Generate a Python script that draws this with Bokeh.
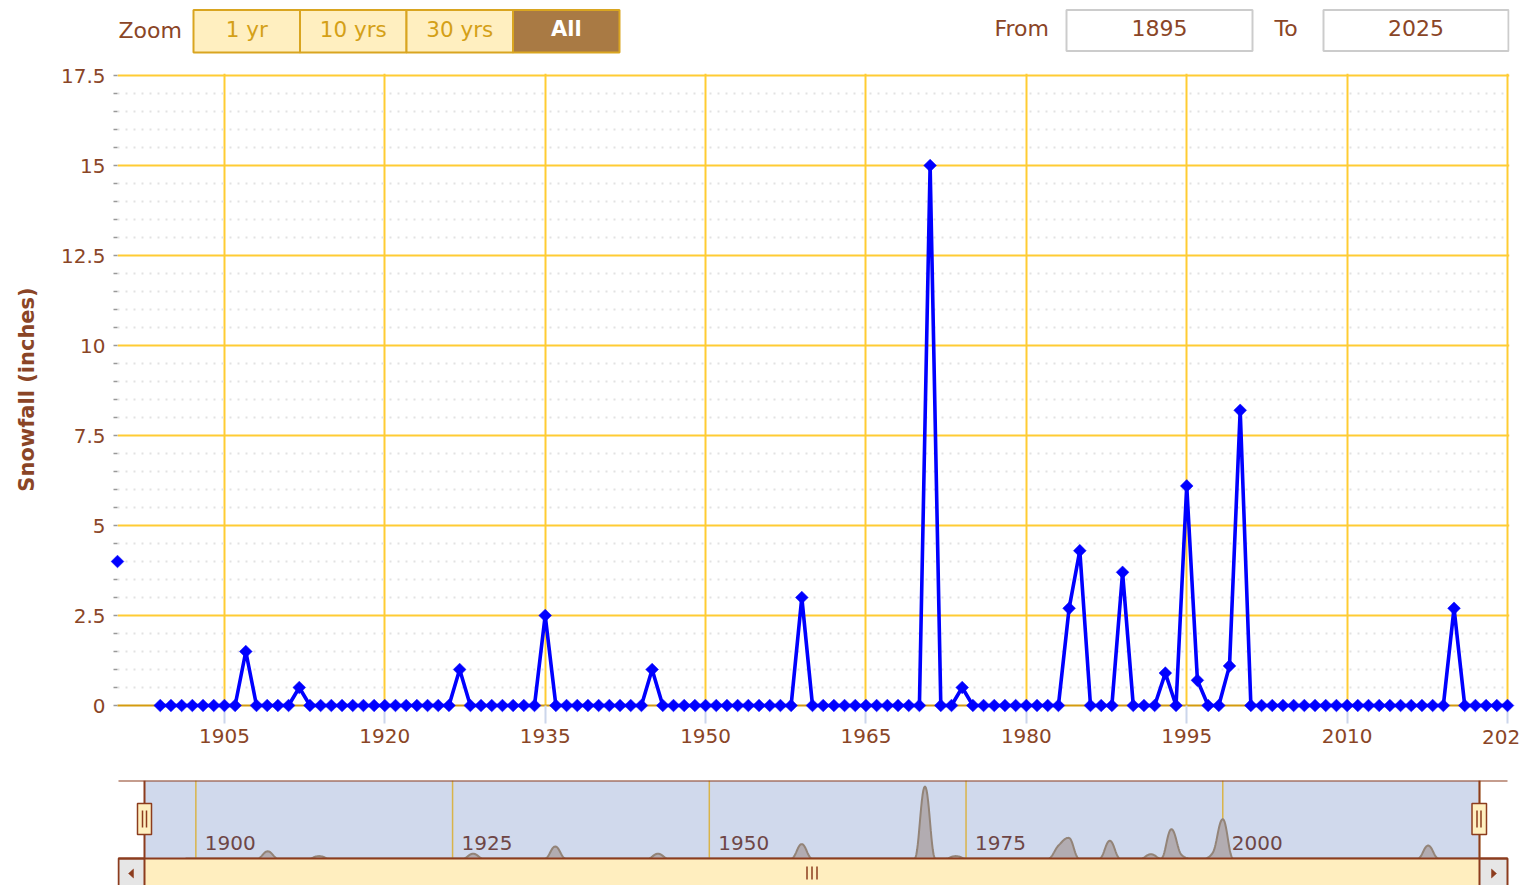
import math
from bokeh.plotting import figure
from bokeh.models import Range1d, FixedTicker, NumeralTickFormatter, ColumnDataSource
from bokeh.layouts import column
from bokeh.embed import file_html
from bokeh.resources import INLINE
from bokeh.core.properties import value

# ---------------- data ----------------
years = list(range(1895, 2026))
snowfall = [
    4.0, None, None, None, 0.0,                 # 1895-1899
    0, 0, 0, 0, 0, 0, 0, 1.5, 0, 0,             # 1900s
    0, 0, 0.5, 0, 0, 0, 0, 0, 0, 0,             # 1910s
    0, 0, 0, 0, 0, 0, 0, 1.0, 0, 0,             # 1920s
    0, 0, 0, 0, 0, 2.5, 0, 0, 0, 0,             # 1930s
    0, 0, 0, 0, 0, 1.0, 0, 0, 0, 0,             # 1940s
    0, 0, 0, 0, 0, 0, 0, 0, 0, 3.0,             # 1950s
    0, 0, 0, 0, 0, 0, 0, 0, 0, 0,               # 1960s
    0, 15.0, 0, 0, 0.5, 0, 0, 0, 0, 0,          # 1970s
    0, 0, 0, 0, 2.7, 4.3, 0, 0, 0, 3.7,         # 1980s
    0, 0, 0, 0.9, 0, 6.1, 0.7, 0, 0, 1.1,       # 1990s
    8.2, 0, 0, 0, 0, 0, 0, 0, 0, 0,             # 2000s
    0, 0, 0, 0, 0, 0, 0, 0, 0, 0,               # 2010s
    2.7, 0, 0, 0, 0, 0,                         # 2020-2025
]
y_ticks = [0, 2.5, 5, 7.5, 10, 12.5, 15, 17.5]
x_ticks = [1905, 1920, 1935, 1950, 1965, 1980, 1995, 2010, 2025]
nav_ticks = [1900, 1925, 1950, 1975, 2000, 2025]
nav_labels = ["1900", "1925", "1950", "1975", "2000"]
zoom_buttons = ["1 yr", "10 yrs", "30 yrs", "All"]
from_year = "1895"
to_year = "2025"
y_title = "Snowfall (inches)"

# ---------------- style ----------------
FONT = "DejaVu Sans"
BROWN = "#8A4526"
DARK = "#8C3C1E"
GOLD = "#FFCC33"
BTN_TXT = "#D4A017"
W = 1519
FL, FR = 117, 1509          # frame left / right (page px), shared by all figures
BL, BR = FL, W - FR

snow_nan = [float("nan") if v is None else float(v) for v in snowfall]
src = ColumnDataSource(dict(year=years, snow=snow_nan))

# ---------------- header (range selector) ----------------
h = figure(width=W, height=62, x_range=Range1d(FL, FR), y_range=Range1d(62, 0),
           x_axis_location=None, y_axis_location=None, toolbar_location=None,
           output_backend="svg", min_border_left=BL, min_border_right=BR,
           min_border_top=0, min_border_bottom=0, outline_line_color=None)
h.grid.visible = False
b_left = [193, 299.5, 406, 512.5]
b_right = [299.5, 406, 512.5, 619]
h.quad(left=b_left[:3], right=b_right[:3], top=9.5, bottom=52,
       fill_color="#FFEFC0", line_color="#D9A520", line_width=2)
h.quad(left=b_left[3:], right=b_right[3:], top=9.5, bottom=52,
       fill_color="#A97A44", line_color="#D9A520", line_width=2)
bc = [(l + r) / 2 for l, r in zip(b_left, b_right)]
h.text(x=bc[:3], y=[29] * 3, text=zoom_buttons[:3], text_align="center",
       text_baseline="middle", text_font=value(FONT), text_font_size=value("21.5px"),
       text_color=BTN_TXT)
h.text(x=bc[3:], y=[28.5], text=zoom_buttons[3:], text_align="center",
       text_baseline="middle", text_font=value(FONT), text_font_size=value("21px"),
       text_font_style="bold", text_color="white")
h.text(x=[118, 994, 1274], y=[29.5, 27.5, 27.5], text=["Zoom", "From", "To"],
       text_align="left", text_baseline="middle", text_font=value(FONT),
       text_font_size=value("22px"), text_color=BROWN)
h.quad(left=[1066, 1323], right=[1252, 1508], top=9.5, bottom=50.5,
       fill_color="white", line_color="#CCCCCC", line_width=2)
h.text(x=[1159, 1415.5], y=[27.5, 27.5], text=[from_year, to_year], text_align="center",
       text_baseline="middle", text_font=value(FONT), text_font_size=value("22px"),
       text_color=BROWN)

# ---------------- main chart ----------------
PX_YR = (1507 - FL) / (years[-1] - years[0])
PX_IN = 36.0
p = figure(width=W, height=708,
           x_range=Range1d(years[0], years[-1] + (FR - 1507) / PX_YR),
           y_range=Range1d(0, 17.5 + 2 / PX_IN),
           toolbar_location=None, output_backend="svg",
           min_border_left=BL, min_border_right=BR, min_border_top=11, min_border_bottom=65,
           outline_line_color=None, background_fill_color="white", border_fill_color="white")

xt = FixedTicker(ticks=x_ticks)
yt = FixedTicker(ticks=y_ticks, minor_ticks=[i * 0.5 for i in range(36) if i % 5])
p.xaxis.ticker = xt
p.xgrid.ticker = xt
p.yaxis.ticker = yt
p.ygrid.ticker = yt

p.xgrid.grid_line_color = GOLD
p.xgrid.grid_line_width = 2
p.ygrid.grid_line_color = GOLD
p.ygrid.grid_line_width = 2
p.ygrid.minor_grid_line_color = "#E2E2E2"
p.ygrid.minor_grid_line_width = 2
p.ygrid.minor_grid_line_dash = "2 6"

p.yaxis.formatter = NumeralTickFormatter(format="0.[0]")
p.yaxis.axis_line_color = None
p.yaxis.major_tick_out = 4
p.yaxis.major_tick_in = 0
p.yaxis.minor_tick_out = 4
p.yaxis.minor_tick_in = 0
p.yaxis.major_tick_line_color = "#999999"
p.yaxis.minor_tick_line_color = "#999999"
p.yaxis.major_tick_line_width = 1.5
p.yaxis.minor_tick_line_width = 1.5
p.yaxis.major_label_standoff = 8
p.yaxis.axis_label = y_title
p.yaxis.axis_label_text_font = FONT
p.yaxis.axis_label_text_font_size = "21px"
p.yaxis.axis_label_text_font_style = "bold"
p.yaxis.axis_label_text_color = BROWN
p.yaxis.axis_label_standoff = 19

p.xaxis.axis_line_color = "#D49B0F"
p.xaxis.axis_line_width = 2
p.xaxis.major_tick_out = 18
p.xaxis.major_tick_in = 0
p.xaxis.major_tick_line_color = "#CCD6EB"
p.xaxis.major_tick_line_width = 2
p.xaxis.minor_tick_out = 0
p.xaxis.minor_tick_in = 0
p.xaxis.major_label_standoff = 5
# the last label runs off the page edge in the original; draw it as free text
p.xaxis.major_label_overrides = {x_ticks[-1]: ""}

for ax in (p.xaxis, p.yaxis):
    ax.major_label_text_font = FONT
    ax.major_label_text_font_size = "20px"
    ax.major_label_text_color = BROWN

p.text(x=[x_ticks[-1]], y=[0], text=[str(x_ticks[-1])], y_offset=31, level="annotation",
       text_align="center", text_baseline="middle", text_font=value(FONT),
       text_font_size=value("20px"), text_color=BROWN)

p.line("year", "snow", source=src, line_color="#0000FF", line_width=3.6, level="overlay")
p.scatter("year", "snow", source=src, marker="square", angle=math.pi / 4, size=9,
          fill_color="#0000FF", line_color="#0000FF", line_width=0.5, level="overlay")

# ---------------- navigator ----------------
NAV_L, NAV_R = 144.0, 1479.0          # page x of first / last year
ppy = (NAV_R - NAV_L) / (years[-1] - years[0])
nx0 = years[0] - (NAV_L - FL) / ppy
nx1 = years[-1] + (FR - NAV_R) / ppy
ppu = 4.8                              # px per inch in navigator
ny0 = -(885 - 858) / ppu
ny1 = (858 - 780) / ppu

n = figure(width=W, height=115, x_range=Range1d(nx0, nx1), y_range=Range1d(ny0, ny1),
           x_axis_location=None, y_axis_location=None, toolbar_location=None,
           output_backend="svg", min_border_left=BL, min_border_right=BR,
           min_border_top=10, min_border_bottom=0, outline_line_color=None,
           background_fill_color="white", border_fill_color="white")
n.grid.visible = False
n.extra_x_ranges = {"px": Range1d(FL, FR)}
n.extra_y_ranges = {"px": Range1d(885, 780)}

# mask over selected range
n.quad(left=[years[0]], right=[years[-1]], top=[ny1], bottom=[0],
       fill_color="#D0D9EC", line_color=None)
# navigator grid lines
n.segment(x0=nav_ticks, x1=nav_ticks, y0=[0] * len(nav_ticks), y1=[ny1] * len(nav_ticks),
          line_color="#D9B44A", line_width=1.5)


def spline_curve(xv, yv, smoothing=1.5, steps=14):
    """Highcharts-style areaspline rendering of the given points."""
    m = len(xv)
    lc, rc = [], []
    for i in range(m):
        px, py = xv[i], yv[i]
        if 0 < i < m - 1:
            lx, ly, qx, qy = xv[i - 1], yv[i - 1], xv[i + 1], yv[i + 1]
            d = smoothing + 1
            lcx, lcy = (smoothing * px + lx) / d, (smoothing * py + ly) / d
            rcx, rcy = (smoothing * px + qx) / d, (smoothing * py + qy) / d
            corr = 0.0
            if rcx != lcx:
                corr = (rcy - lcy) * (rcx - px) / (rcx - lcx) + py - rcy
            lcy += corr
            rcy += corr
            if lcy > ly and lcy > py:
                lcy = max(ly, py); rcy = 2 * py - lcy
            elif lcy < ly and lcy < py:
                lcy = min(ly, py); rcy = 2 * py - lcy
            if rcy > qy and rcy > py:
                rcy = max(qy, py); lcy = 2 * py - rcy
            elif rcy < qy and rcy < py:
                rcy = min(qy, py); lcy = 2 * py - rcy
        else:
            lcx, lcy, rcx, rcy = px, py, px, py
        lc.append((lcx, lcy))
        rc.append((rcx, rcy))
    ox, oy = [xv[0]], [yv[0]]
    for i in range(1, m):
        p0 = (xv[i - 1], yv[i - 1]); c1 = rc[i - 1]; c2 = lc[i]; p3 = (xv[i], yv[i])
        for k in range(1, steps + 1):
            t = k / steps
            a, b, c, e = (1 - t) ** 3, 3 * (1 - t) ** 2 * t, 3 * (1 - t) * t ** 2, t ** 3
            ox.append(a * p0[0] + b * c1[0] + c * c2[0] + e * p3[0])
            oy.append(a * p0[1] + b * c1[1] + c * c2[1] + e * p3[1])
    return ox, oy


seg_x = [yr for yr, v in zip(years, snowfall) if v is not None and yr >= 1899]
seg_y = [v for yr, v in zip(years, snowfall) if v is not None and yr >= 1899]
cx, cy = spline_curve(seg_x, seg_y)
n.varea(x=cx, y1=[0] * len(cx), y2=cy, fill_color="#B2ACB1", fill_alpha=1.0)
n.line(x=cx, y=cy, line_color="#938478", line_width=2)

n.text(x=nav_ticks[:len(nav_labels)], y=[842.5] * len(nav_labels), text=nav_labels,
       x_offset=9, y_range_name="px", text_align="left", text_baseline="middle",
       text_font=value(FONT), text_font_size=value("20px"), text_color="#6E4646")

# scrollbar
n.quad(left=[NAV_L], right=[NAV_R], top=[858], bottom=[887], x_range_name="px",
       y_range_name="px", fill_color="#FFEEBF", line_color=None)
n.quad(left=[118, NAV_R], right=[NAV_L, 1507], top=[858, 858], bottom=[887, 887],
       x_range_name="px", y_range_name="px", fill_color="#E6E6E6", line_color=DARK,
       line_width=2)
n.patches(xs=[[128, 133, 133], [1496, 1491, 1491]],
          ys=[[873, 868.5, 877.5], [873, 868.5, 877.5]], x_range_name="px",
          y_range_name="px", fill_color=DARK, line_color=DARK, line_width=0.5)
grip_x = (NAV_L + NAV_R) / 2
n.segment(x0=[grip_x - 5, grip_x, grip_x + 5], x1=[grip_x - 5, grip_x, grip_x + 5],
          y0=[866] * 3, y1=[879] * 3, x_range_name="px", y_range_name="px",
          line_color=DARK, line_width=1.5)

# outline
n.multi_line(xs=[[118, 1507], [NAV_L, NAV_L], [NAV_R, NAV_R], [118, 1507]],
             ys=[[780, 780], [780, 858], [780, 858], [858, 858]],
             x_range_name="px", y_range_name="px", line_color=DARK, line_width=2)
# handles
n.quad(left=[NAV_L - 7, NAV_R - 7.5], right=[NAV_L + 7, NAV_R + 7], top=[803, 803],
       bottom=[834, 834], x_range_name="px", y_range_name="px", fill_color="#FFF0C0",
       line_color=DARK, line_width=1.5)
hx = [NAV_L - 2, NAV_L + 2, NAV_R - 2.5, NAV_R + 1.5]
n.segment(x0=hx, x1=hx, y0=[810] * 4, y1=[827] * 4, x_range_name="px", y_range_name="px",
          line_color=DARK, line_width=1.5)

layout = column(h, p, n, spacing=0)
open("out.html", "w").write(file_html(layout, INLINE))
